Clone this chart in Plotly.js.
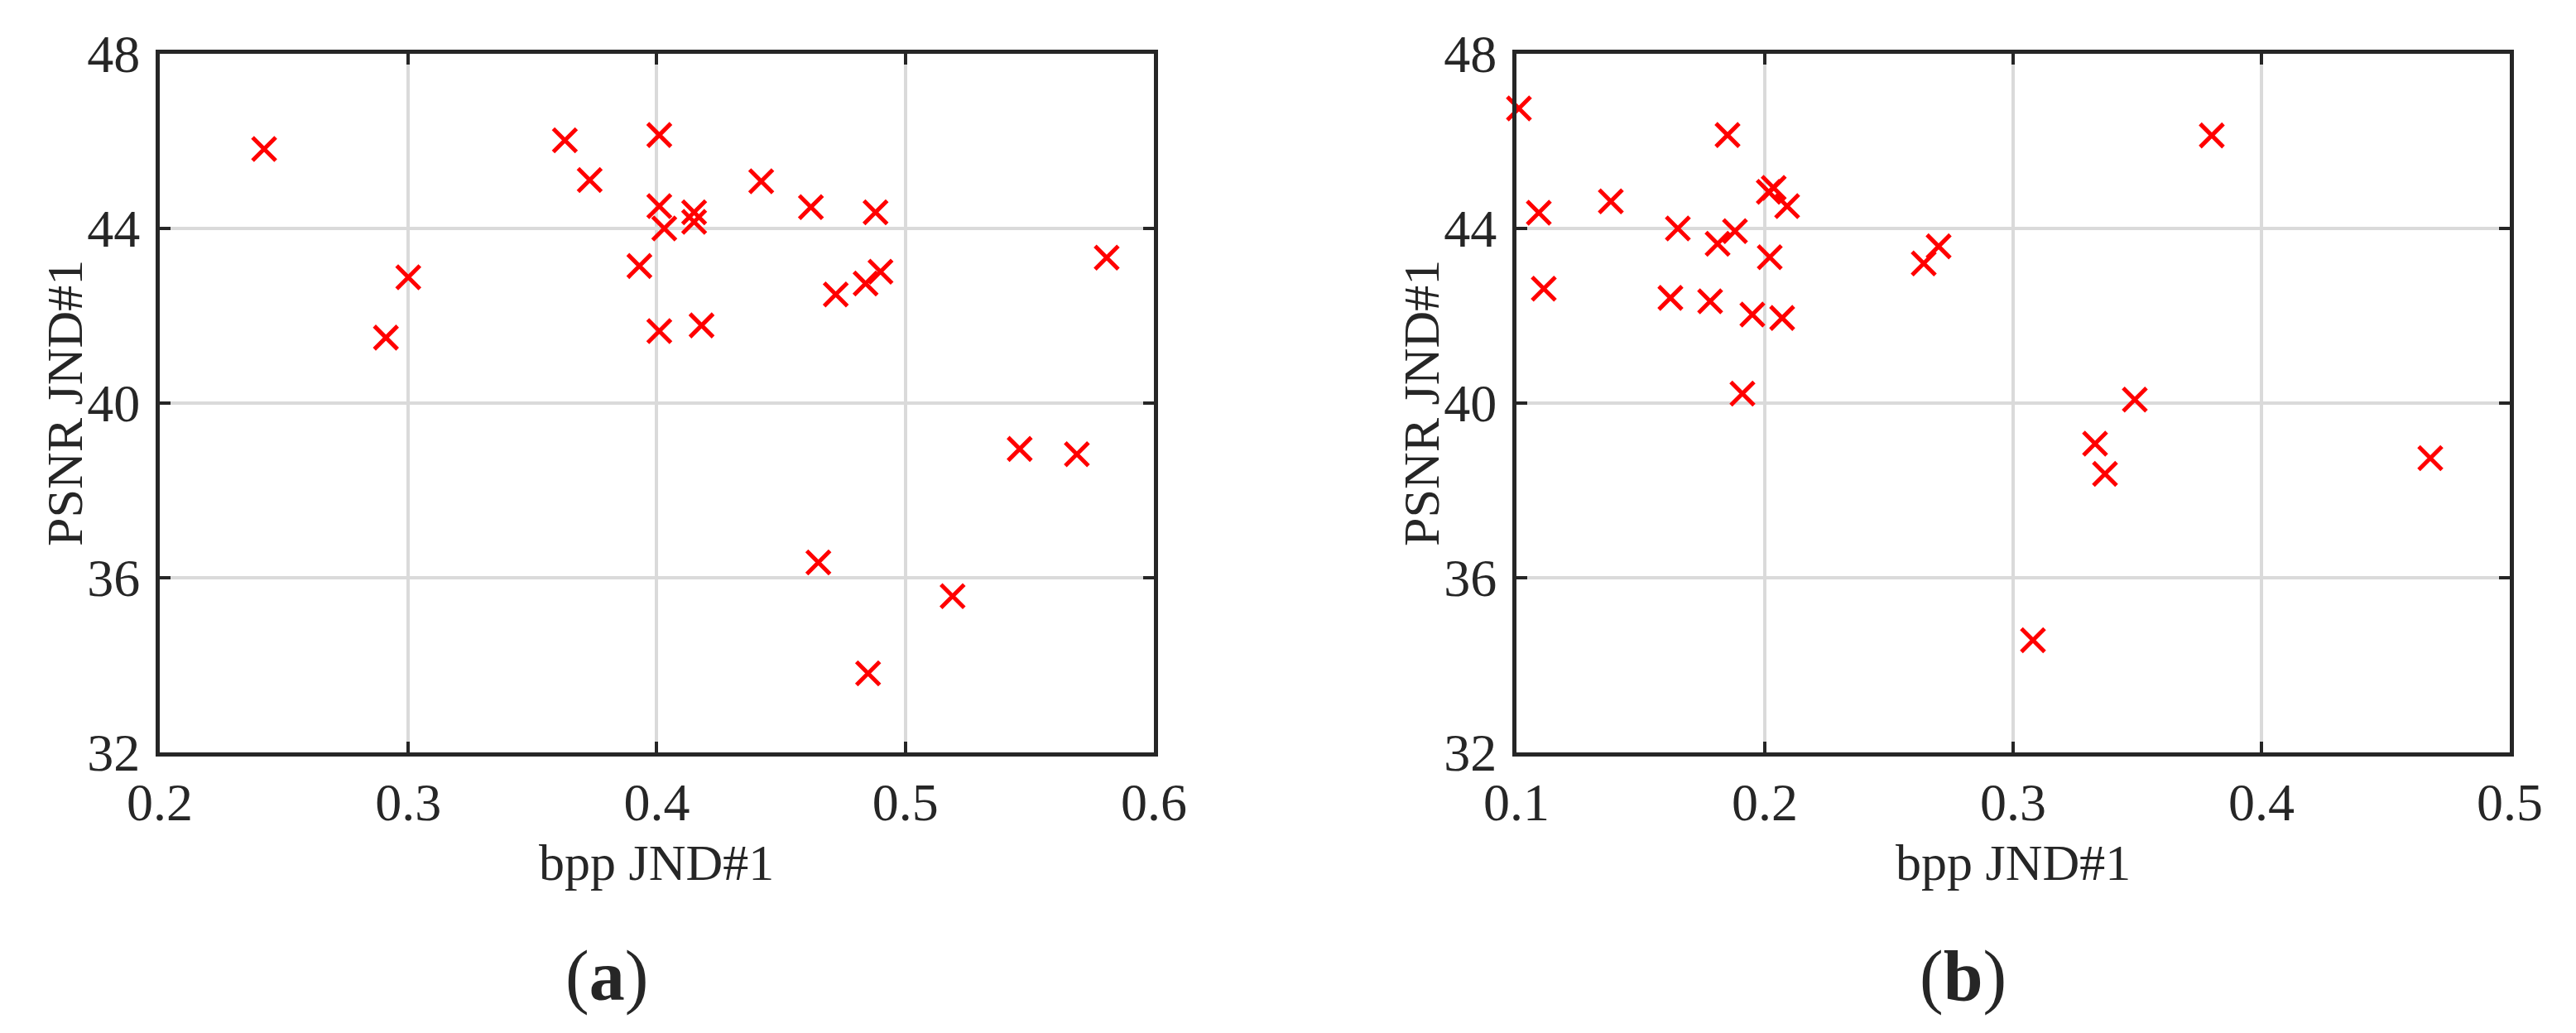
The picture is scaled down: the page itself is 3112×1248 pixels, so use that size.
<!DOCTYPE html>
<html>
<head>
<meta charset="utf-8">
<script src="https://cdn.plot.ly/plotly-3.0.1.min.js"></script>
<style>
  html, body { margin: 0; padding: 0; background: #fff; }
  #chart { width: 3112px; height: 1248px; }
</style>
</head>
<body>
<div id="chart"></div>
<script>
// (a) bpp / PSNR at JND#1
var bppA = [0.242, 0.291, 0.300, 0.363, 0.373, 0.401, 0.401, 0.403, 0.393, 0.415,
            0.415, 0.401, 0.418, 0.442, 0.462, 0.488, 0.472, 0.484, 0.490, 0.581,
            0.546, 0.569, 0.465, 0.519, 0.485];
var psnrA = [45.82, 41.50, 42.88, 46.02, 45.11, 46.14, 44.51, 44.00, 43.14, 44.37,
             44.15, 41.65, 41.78, 45.08, 44.49, 44.37, 42.49, 42.74, 43.01, 43.33,
             38.95, 38.83, 36.35, 35.58, 33.81];

// (b)
var bppB = [0.101, 0.109, 0.111, 0.138, 0.165, 0.162, 0.178, 0.181, 0.188, 0.185,
            0.2016, 0.2036, 0.209, 0.202, 0.195, 0.207, 0.191, 0.264, 0.270, 0.380,
            0.349, 0.333, 0.337, 0.468, 0.308];
var psnrB = [46.75, 44.36, 42.62, 44.62, 44.00, 42.41, 42.33, 43.65, 43.94, 46.14,
             44.84, 44.93, 44.51, 43.34, 42.03, 41.95, 40.22, 43.20, 43.59, 46.13,
             40.08, 39.07, 38.38, 38.74, 34.57];

var xTicksA = [0.2, 0.3, 0.4, 0.5, 0.6];
var xTicksB = [0.1, 0.2, 0.3, 0.4, 0.5];
var yTicks = [32, 36, 40, 44, 48];

var ink = '#262626';
var fontName = 'Liberation Serif, Times New Roman, serif';

function marks(x, y, xa, ya) {
    return {
        x: x,
        y: y,
        xaxis: xa,
        yaxis: ya,
        type: 'scatter',
        mode: 'markers',
        cliponaxis: false,
        marker: {
            symbol: 'x-thin',
            size: 28,
            color: '#ff0000',
            line: { width: 5, color: '#ff0000' }
        },
        hoverinfo: 'x+y'
    };
}

function xAxis(domain, ticks, anchor) {
    return {
        domain: domain,
        anchor: anchor,
        range: [ticks[0], ticks[ticks.length - 1]],
        tickvals: ticks,
        ticktext: ticks.map(function (v) { return v.toFixed(1); }),
        ticks: 'inside',
        ticklen: 13,
        tickwidth: 4,
        tickcolor: ink,
        showline: true,
        linewidth: 5,
        linecolor: ink,
        mirror: 'ticks',
        showgrid: true,
        gridcolor: '#dadada',
        gridwidth: 4,
        zeroline: false,
        ticklabelstandoff: 0,
        tickfont: { family: fontName, size: 64, color: ink }
    };
}

function yAxis(anchor) {
    return {
        domain: [0, 1],
        anchor: anchor,
        range: [32, 48],
        tickvals: yTicks,
        ticks: 'inside',
        ticklen: 13,
        tickwidth: 4,
        tickcolor: ink,
        showline: true,
        linewidth: 5,
        linecolor: ink,
        mirror: 'ticks',
        showgrid: true,
        gridcolor: '#dadada',
        gridwidth: 4,
        zeroline: false,
        ticklabelstandoff: 6,
        tickfont: { family: fontName, size: 64, color: ink }
    };
}

function label(text, x, y, angle, size) {
    return {
        xref: 'paper', yref: 'paper', x: x, y: y,
        xanchor: 'center', yanchor: 'middle', showarrow: false,
        textangle: angle,
        text: text,
        font: { family: fontName, size: size, color: ink }
    };
}

var layout = {
    width: 3112,
    height: 1248,
    margin: { l: 193, r: 80, t: 65, b: 339 },
    paper_bgcolor: '#ffffff',
    plot_bgcolor: '#ffffff',
    showlegend: false,
    hovermode: 'closest',
    xaxis: xAxis([0, 0.42303], xTicksA, 'y'),
    yaxis: yAxis('x'),
    xaxis2: xAxis([0.57731, 1], xTicksB, 'y2'),
    yaxis2: yAxis('x2'),
    annotations: [
        label('bpp JND#1', 0.2115, -0.158, 0, 62),
        label('bpp JND#1', 0.7887, -0.158, 0, 62),
        label('PSNR JND#1', -0.0405, 0.5, -90, 62),
        label('PSNR JND#1', 0.5368, 0.5, -90, 62),
        label('(<b>a</b>)', 0.1903, -0.32, 0, 86),
        label('(<b>b</b>)', 0.7675, -0.32, 0, 86)
    ]
};

Plotly.newPlot('chart', [marks(bppA, psnrA, 'x', 'y'), marks(bppB, psnrB, 'x2', 'y2')],
    layout, { displayModeBar: false, staticPlot: true });
</script>
</body>
</html>
